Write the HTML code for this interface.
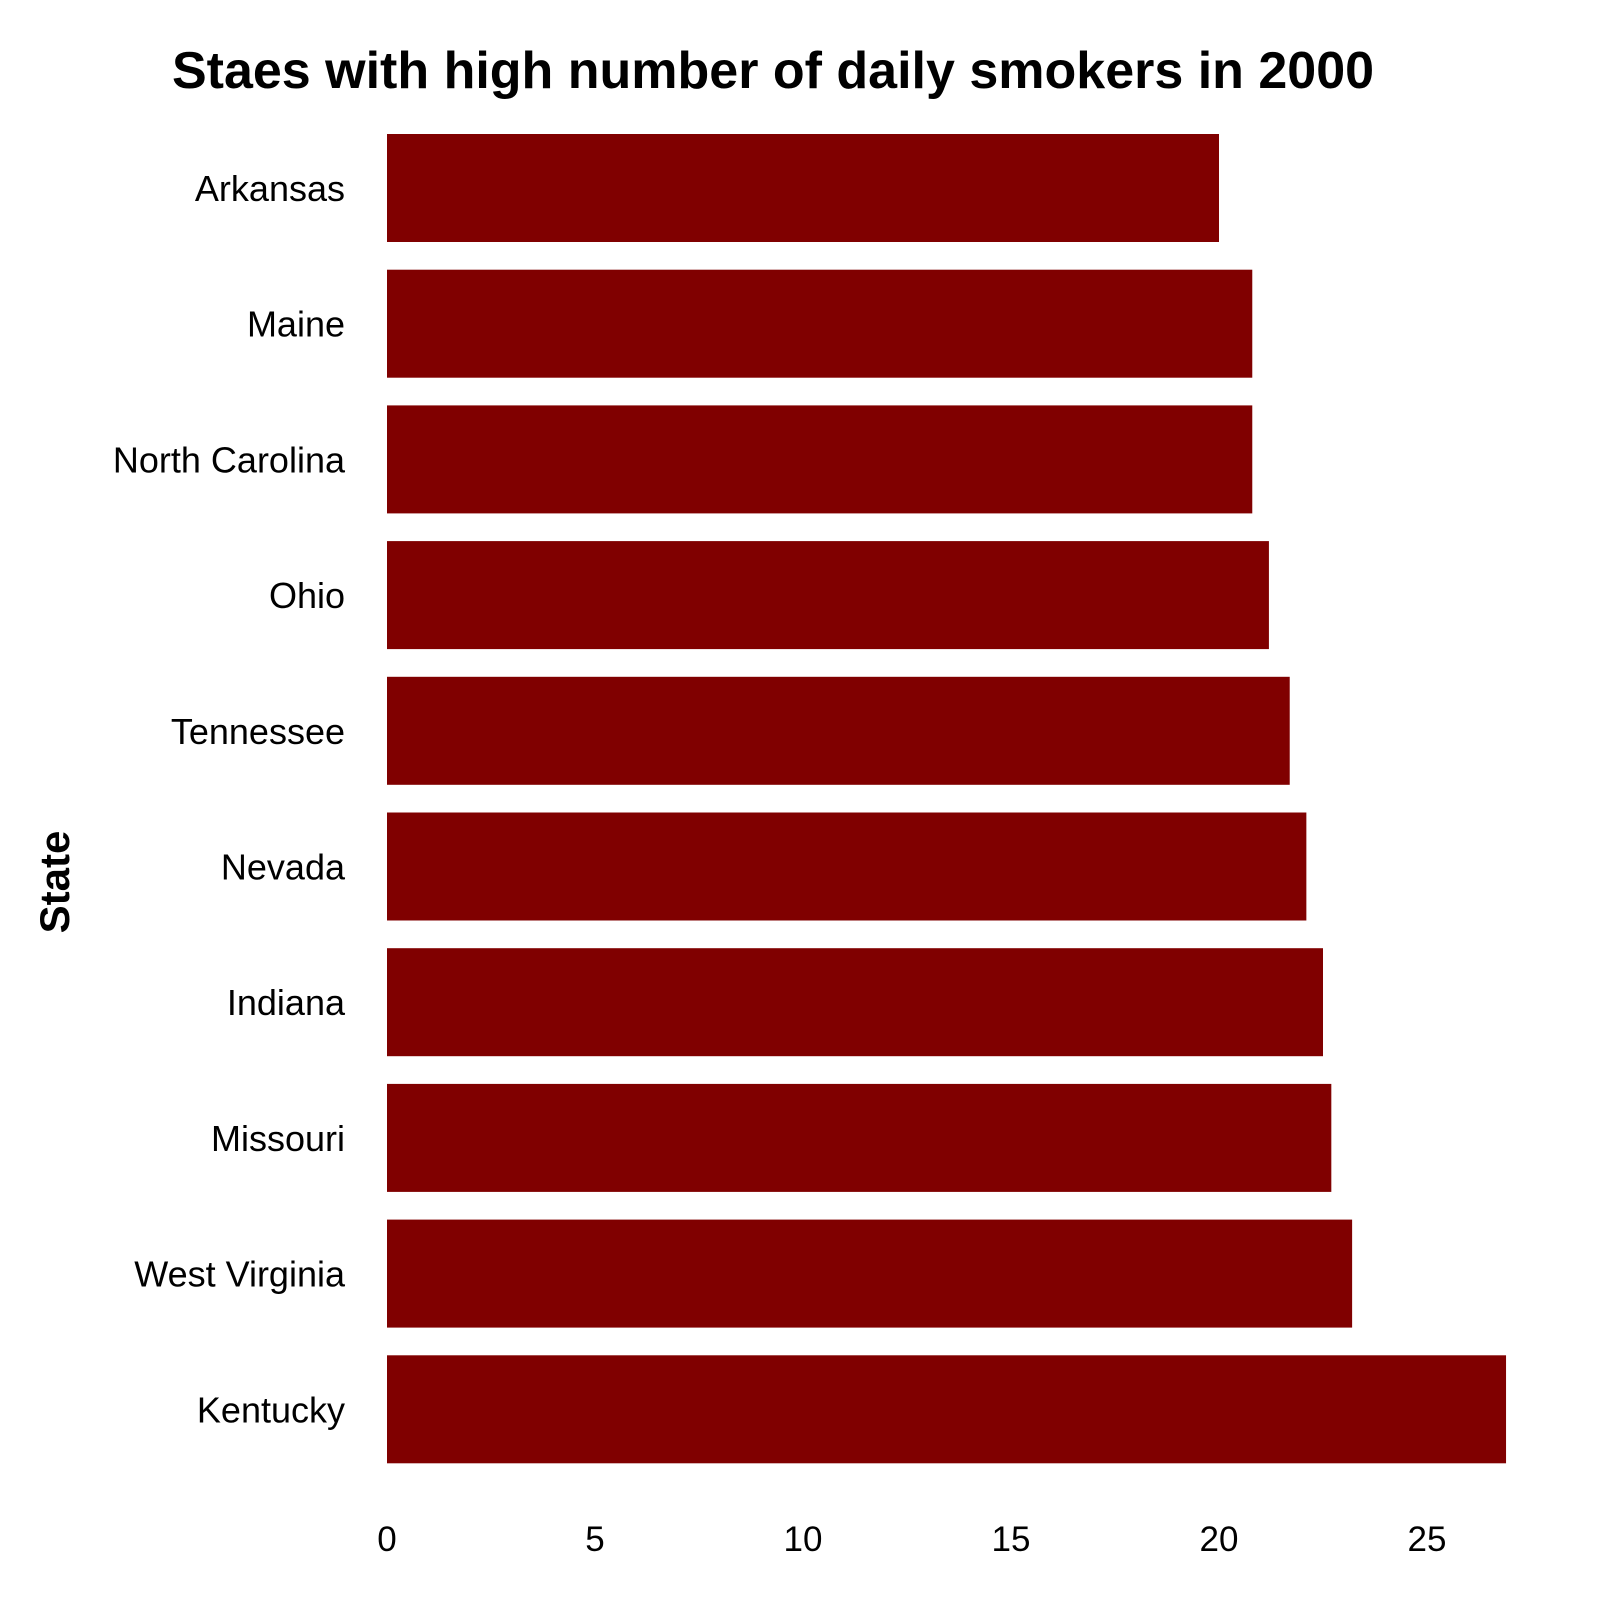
<!DOCTYPE html>
<html><head><meta charset="utf-8"><style>
body{margin:0;background:#fff}
svg{display:block;font-family:"Liberation Sans",Arial,sans-serif}
</style></head><body>
<svg id="chart" width="1600" height="1600">
<text x="773" y="88" text-anchor="middle" font-size="52" font-weight="bold">Staes with high number of daily smokers in 2000</text>
<text transform="translate(69,882) rotate(-90)" text-anchor="middle" font-size="42" font-weight="bold">State</text>
<g id="bars"></g><g id="ylabels"></g><g id="xticks"></g>
</svg>
<script>
const categories=["Arkansas","Maine","North Carolina","Ohio","Tennessee","Nevada","Indiana","Missouri","West Virginia","Kentucky"];
const values=[20.0,20.8,20.8,21.2,21.7,22.1,22.5,22.7,23.2,26.9];
const tickValues=[0,5,10,15,20,25];
const ns="http://www.w3.org/2000/svg";
const x0=387,pxPerUnit=41.6,top0=134,pitch=135.7,bh=108;
const xs=v=>x0+v*pxPerUnit;
const ys=i=>top0+i*pitch;
const bars=document.getElementById('bars'),yl=document.getElementById('ylabels'),xt=document.getElementById('xticks');
categories.forEach((c,i)=>{
 const r=document.createElementNS(ns,'rect');
 r.setAttribute('x',xs(0));r.setAttribute('y',ys(i));
 r.setAttribute('width',xs(values[i])-xs(0));r.setAttribute('height',bh);
 r.setAttribute('fill','#800000');
 
 
 bars.appendChild(r);
 const t=document.createElementNS(ns,'text');
 t.setAttribute('x',345);t.setAttribute('y',ys(i)+bh/2+13);
 t.setAttribute('text-anchor','end');t.setAttribute('font-size','36');
 t.textContent=c;
 
 
 yl.appendChild(t);
});
tickValues.forEach(v=>{
 const t=document.createElementNS(ns,'text');
 t.setAttribute('x',xs(v));t.setAttribute('y',1551);
 t.setAttribute('text-anchor','middle');t.setAttribute('font-size','35');
 t.textContent=v;
 
 
 xt.appendChild(t);
});
</script>
</body></html>
